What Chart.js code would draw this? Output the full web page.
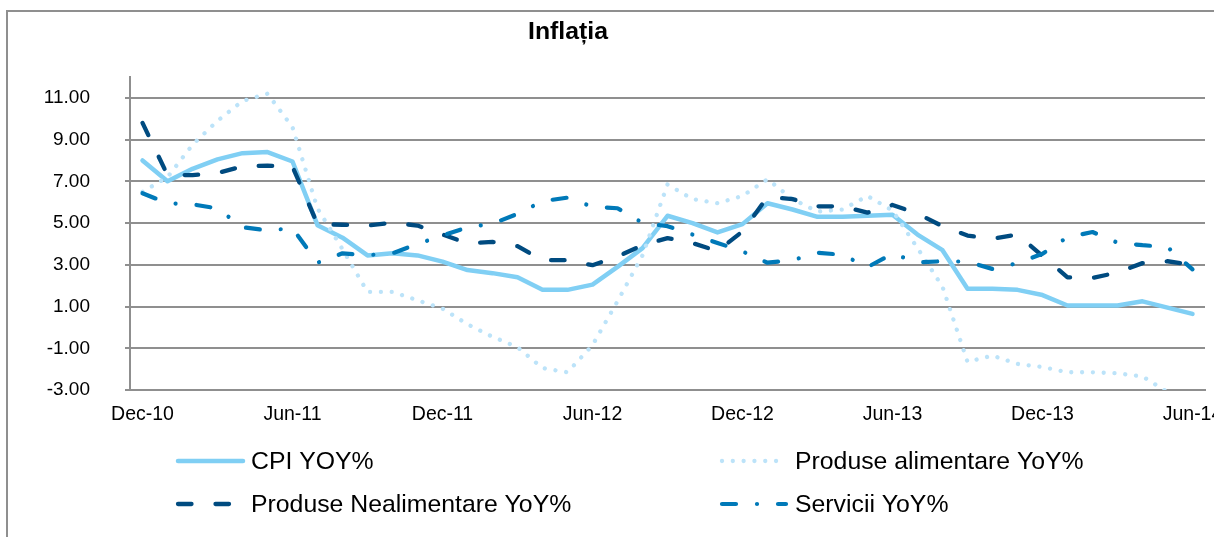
<html>
<head>
<meta charset="utf-8">
<title>Inflatia</title>
<style>
  html, body { margin: 0; padding: 0; background: #fff; overflow: hidden; }
</style>
</head>
<body>
<script src="https://cdn.jsdelivr.net/npm/chart.js@4.4.1/dist/chart.umd.min.js"></script>

<canvas id="myChart" width="1214" height="537"></canvas>

<script type="text/javascript">
// monthly, Dec-10 .. Jun-14
var months = ["Dec-10",
  "Jan-11", "Feb-11", "Mar-11", "Apr-11", "May-11", "Jun-11", "Jul-11", "Aug-11", "Sep-11", "Oct-11", "Nov-11", "Dec-11",
  "Jan-12", "Feb-12", "Mar-12", "Apr-12", "May-12", "Jun-12", "Jul-12", "Aug-12", "Sep-12", "Oct-12", "Nov-12", "Dec-12",
  "Jan-13", "Feb-13", "Mar-13", "Apr-13", "May-13", "Jun-13", "Jul-13", "Aug-13", "Sep-13", "Oct-13", "Nov-13", "Dec-13",
  "Jan-14", "Feb-14", "Mar-14", "Apr-14", "May-14", "Jun-14"];
var yTicks = [-3, -1, 1, 3, 5, 7, 9, 11];

var cpi = [8.0, 7.0, 7.6, 8.05, 8.35, 8.4, 7.95, 4.9, 4.3, 3.45, 3.55, 3.45, 3.15,
  2.75, 2.6, 2.4, 1.8, 1.8, 2.05, 2.9, 3.8, 5.35, 5.0, 4.55, 4.95,
  5.95, 5.65, 5.3, 5.3, 5.35, 5.4, 4.45, 3.7, 1.85, 1.85, 1.8, 1.55,
  1.05, 1.05, 1.05, 1.25, 0.95, 0.65];
var alimentare = [6.5, 7.2, 8.75, 9.9, 10.85, 11.2, 9.6, 5.7, 3.75, 1.7, 1.7, 1.3, 0.9,
  0.15, -0.45, -0.95, -1.95, -2.15, -0.85, 1.25, 3.45, 6.85, 6.15, 5.95, 6.3,
  7.1, 6.15, 5.55, 5.65, 6.3, 5.6, 3.8, 1.95, -1.65, -1.35, -1.75, -1.9,
  -2.15, -2.15, -2.2, -2.35, -3.1, -3.3];
var nealimentare = [9.8, 7.3, 7.3, 7.4, 7.72, 7.75, 7.7, 4.95, 4.92, 4.88, 5.02, 4.88, 4.45,
  4.03, 4.1, 3.89, 3.22, 3.22, 2.98, 3.4, 3.94, 4.28, 4.04, 3.66, 4.6,
  6.25, 6.15, 5.8, 5.8, 5.5, 5.87, 5.45, 4.85, 4.4, 4.25, 4.45, 3.42,
  2.4, 2.37, 2.63, 3.08, 3.17, 3.0];
var servicii = [6.43, 5.95, 5.9, 5.7, 4.8, 4.65, 4.75, 3.1, 3.55, 3.46, 3.55, 4.0, 4.4,
  4.8, 4.97, 5.44, 6.05, 6.22, 5.78, 5.71, 5.01, 4.85, 4.45, 4.05, 3.64,
  3.1, 3.22, 3.58, 3.48, 2.89, 3.53, 3.12, 3.17, 3.15, 2.8, 3.08, 3.53,
  4.32, 4.57, 4.06, 3.94, 3.85, 2.78];

var FONT = "'Liberation Sans', Arial, sans-serif";
var gridGrey = "#8f8f8f";

function series(label, values, color, dash, width, order) {
  return {label: label,
          data: values,
          borderColor: color,
          backgroundColor: color,
          borderWidth: width,
          borderDash: dash,
          borderCapStyle: "round",
          borderJoinStyle: "round",
          pointRadius: 0,
          tension: 0,
          fill: false,
          order: order};
}

var datasets = [
  series("CPI YOY%", cpi, "#80cff4", [], 4.5, 4),
  series("Produse alimentare YoY%", alimentare, "#bce3f9", [0.01, 10.8], 4.3, 3),
  series("Produse Nealimentare YoY%", nealimentare, "#004b80", [13.5, 24], 4.3, 2),
  series("Servicii YoY%", servicii, "#0079b8", [14, 21, 0.01, 21], 4.2, 1)
];

// frame, title and a 2x2 legend laid out like the original
var frame = {
  id: "frame",
  beforeDraw: function(chart) {
    var ctx = chart.ctx;
    ctx.save();
    ctx.fillStyle = "#fff";
    ctx.fillRect(0, 0, chart.width, chart.height);
    ctx.strokeStyle = gridGrey;
    ctx.lineWidth = 2;
    ctx.strokeRect(7, 11, 1400, 700);
    ctx.restore();
  },
  afterDraw: function(chart) {
    var ctx = chart.ctx;
    ctx.save();
    ctx.fillStyle = "#000";
    ctx.textAlign = "center";
    ctx.textBaseline = "alphabetic";
    ctx.font = "bold 24.8px " + FONT;
    ctx.fillText("Inflația", 568, 38.5);

    var spots = [[178, 243, 461, 251], [722, 782, 461, 795],
                 [178, 238, 504, 251], [722, 786, 504, 795]];
    ctx.font = "24.8px " + FONT;
    ctx.textAlign = "left";
    ctx.textBaseline = "middle";
    chart.data.datasets.forEach(function(ds, i) {
      var s = spots[i];
      ctx.save();
      ctx.strokeStyle = ds.borderColor;
      ctx.lineWidth = ds.borderWidth;
      ctx.lineCap = "round";
      ctx.setLineDash(ds.borderDash);
      ctx.beginPath();
      ctx.moveTo(s[0], s[2]);
      ctx.lineTo(s[1], s[2]);
      ctx.stroke();
      ctx.restore();
      ctx.fillText(ds.label, s[3], s[2] + 1);
    });
    ctx.restore();
  }
};

var ctx = document.getElementById("myChart").getContext("2d");
var myLineChart = new Chart(ctx, {
  type: "line",
  data: {labels: months, datasets: datasets},
  plugins: [frame],
  options: {
    responsive: false,
    animation: false,
    devicePixelRatio: 1,
    layout: {padding: {top: 77, left: 0, right: 9, bottom: 107}},
    plugins: {
      legend: {display: false},
      title: {display: false},
      tooltip: {enabled: false}
    },
    scales: {
      x: {
        offset: true,
        grid: {display: false},
        border: {display: true, color: gridGrey, width: 2},
        ticks: {
          autoSkip: false,
          maxRotation: 0,
          minRotation: 0,
          padding: 5,
          color: "#000",
          font: {family: FONT, size: 19.5},
          callback: function(value, index) {
            return index % 6 === 0 ? months[index] : "";
          }
        },
        afterFit: function(scale) {
          scale.height = 40;
          scale.paddingLeft = 0;
          scale.paddingRight = 0;
        }
      },
      y: {
        min: -3,
        max: 12,
        grid: {color: gridGrey, lineWidth: 2, drawTicks: true, tickLength: 5},
        border: {display: true, color: gridGrey, width: 2},
        ticks: {
          padding: 35,
          color: "#000",
          font: {family: FONT, size: 19},
          callback: function(value) { return value.toFixed(2); }
        },
        afterBuildTicks: function(scale) {
          scale.ticks = yTicks.map(function(v) { return {value: v}; });
        },
        afterFit: function(scale) {
          scale.width = 130;
        }
      }
    }
  }
});
</script>
</body>
</html>
